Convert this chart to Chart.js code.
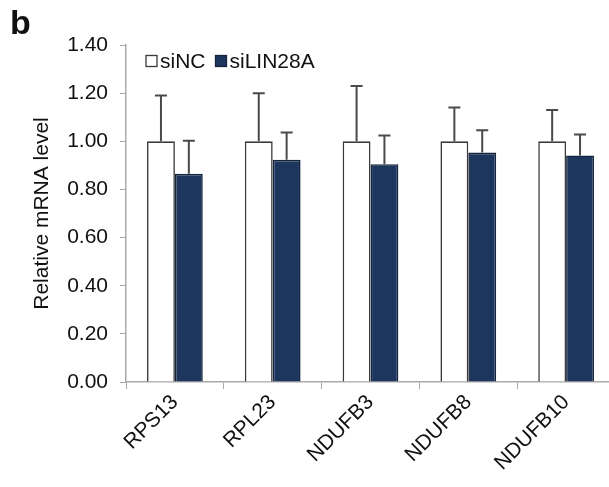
<!DOCTYPE html>
<html>
<head>
<meta charset="utf-8">
<script src="https://cdn.jsdelivr.net/npm/chart.js@4/dist/chart.umd.min.js"></script>
<style>
  html, body { margin: 0; padding: 0; background: #fff; overflow: hidden; width: 609px; height: 487px; }
  #wrap { position: relative; width: 615px; height: 487px; }
  #panel { position: absolute; left: 10px; top: 5px; font: bold 34px/1 "Liberation Sans", Arial, sans-serif; color: #111; }
</style>
</head>
<body>
<div id="wrap">
  <canvas id="c" width="615" height="487"></canvas>
  <div id="panel">b</div>
</div>
<script>
const categories = ["RPS13", "RPL23", "NDUFB3", "NDUFB8", "NDUFB10"];
const seriesNames = ["siNC", "siLIN28A"];
const siNC = [1.00, 1.00, 1.00, 1.00, 1.00];
const siNCErr = [0.19, 0.20, 0.23, 0.14, 0.13];
const siLIN28A = [0.865, 0.923, 0.905, 0.953, 0.941];
const siLIN28AErr = [0.137, 0.114, 0.119, 0.093, 0.087];
const yTicks = [0, 0.2, 0.4, 0.6, 0.8, 1.0, 1.2, 1.4];

const FONT = "'Liberation Sans', Arial, sans-serif";
const NAVY = "#1c365e";

const errorBars = {
  id: "errorBars",
  afterDatasetsDraw(chart) {
    const ctx = chart.ctx;
    const y = chart.scales.y;
    chart.data.datasets.forEach((ds, i) => {
      const meta = chart.getDatasetMeta(i);
      meta.data.forEach((bar, j) => {
        const v = ds.data[j];
        const e = ds.errors[j];
        const yTop = y.getPixelForValue(v + e);
        const yV = y.getPixelForValue(v);
        ctx.save();
        ctx.strokeStyle = "#4a4a4a";
        ctx.lineWidth = 2;
        ctx.beginPath();
        ctx.moveTo(bar.x, yV);
        ctx.lineTo(bar.x, yTop);
        ctx.moveTo(bar.x - 6, yTop);
        ctx.lineTo(bar.x + 6, yTop);
        ctx.stroke();
        ctx.restore();
      });
    });
  }
};

const insideLegend = {
  id: "insideLegend",
  afterDraw(chart) {
    const ctx = chart.ctx;
    const a = chart.chartArea;
    let x = a.left + 20;
    const yc = a.top + 16;
    ctx.save();
    ctx.font = "21px " + FONT;
    ctx.textBaseline = "middle";
    chart.data.datasets.forEach((ds) => {
      ctx.fillStyle = ds.backgroundColor;
      ctx.fillRect(x, yc - 5.5, 11, 11);
      ctx.strokeStyle = ds.borderColor;
      ctx.lineWidth = 1.3;
      ctx.strokeRect(x, yc - 5.5, 11, 11);
      ctx.fillStyle = "#111";
      ctx.fillText(ds.label, x + 14, yc + 1);
      x += 14 + ctx.measureText(ds.label).width + 10;
    });
    ctx.restore();
  }
};

new Chart(document.getElementById("c"), {
  type: "bar",
  data: {
    labels: categories,
    datasets: [
      { label: seriesNames[0], data: siNC, errors: siNCErr, backgroundColor: "#ffffff", borderColor: "#3a3a3a", borderWidth: 1.6 },
      { label: seriesNames[1], data: siLIN28A, errors: siLIN28AErr, backgroundColor: NAVY, borderColor: "#16253d", borderWidth: 1.6 }
    ]
  },
  options: {
    responsive: false,
    animation: false,
    events: [],
    layout: { padding: { top: 45, left: 0, right: 0, bottom: 0 } },
    datasets: { bar: { categoryPercentage: 0.57, barPercentage: 1.0 } },
    plugins: { legend: { display: false }, tooltip: { enabled: false } },
    scales: {
      x: {
        grid: { offset: true, drawOnChartArea: false, drawTicks: true, tickLength: 7, color: "#aaa" },
        border: { color: "#aaa", width: 1.5 },
        ticks: { color: "#111", font: { size: 21, family: FONT }, minRotation: 45, maxRotation: 45, padding: 1 },
        afterFit(s) { s.height = 105; }
      },
      y: {
        min: 0, max: 1.4,
        afterBuildTicks(s) { s.ticks = yTicks.map(v => ({ value: v })); },
        grid: { drawOnChartArea: false, drawTicks: true, tickLength: 6, color: "#aaa" },
        border: { color: "#aaa", width: 1.5 },
        ticks: { color: "#111", font: { size: 21, family: FONT }, padding: 12, callback: v => Number(v).toFixed(2) },
        title: { display: true, text: "Relative mRNA level", color: "#111", font: { size: 21, family: FONT }, padding: { top: 30, bottom: 0 } },
        afterFit(s) { s.width = 126; }
      }
    }
  },
  plugins: [errorBars, insideLegend]
});
</script>
</body>
</html>
